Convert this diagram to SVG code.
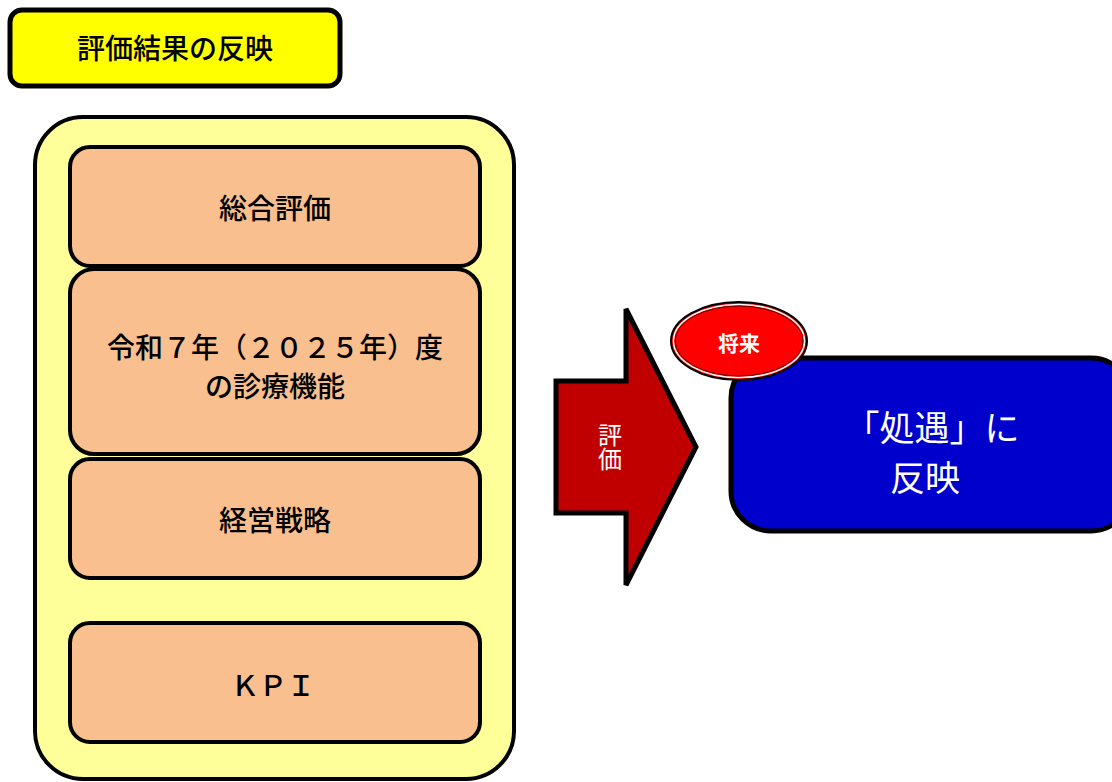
<svg xmlns="http://www.w3.org/2000/svg" width="1112" height="782" viewBox="0 0 1112 782">
<style>
text{font-family:"Noto Sans CJK JP","Noto Sans",sans-serif;text-anchor:middle;dominant-baseline:central}
.item{fill:#f9bf8f;stroke:#000;stroke-width:4}
.dark{fill:#000;font-size:28px;font-weight:500}
.white{fill:#fff}
</style>
<rect width="1112" height="782" fill="#fff"/>
<g id="title">
<rect x="10" y="10" width="330" height="76" rx="12" fill="#ffff00" stroke="#000" stroke-width="5"/>
<text class="dark" x="175" y="47">評価結果の反映</text>
</g>
<g id="container">
<rect x="35" y="117" width="479" height="662" rx="48" fill="#ffff99" stroke="#000" stroke-width="4"/>
</g>
<g id="item1">
<rect class="item" x="70" y="147" width="410" height="119" rx="20"/>
<text class="dark" x="275" y="207">総合評価</text>
</g>
<g id="item2">
<rect class="item" x="70" y="269" width="410" height="185" rx="24"/>
<text class="dark" x="275" y="346">令和７年（２０２５年）度</text>
<text class="dark" x="275" y="385">の診療機能</text>
</g>
<g id="item3">
<rect class="item" x="70" y="459" width="410" height="119" rx="20"/>
<text class="dark" x="275" y="519">経営戦略</text>
</g>
<g id="item4">
<rect class="item" x="70" y="623" width="410" height="119" rx="20"/>
<text class="dark" x="273" y="684">ＫＰＩ</text>
</g>
<g id="connectors">
<g id="arrow">
<polygon points="556,381 626,381 626,309 696,447 626,585 626,513 556,513" fill="#c00000" stroke="#000" stroke-width="5" stroke-linejoin="miter"/>
<text class="white" x="610" y="447" font-size="24" writing-mode="vertical-rl">評価</text>
</g>
</g>
<g id="result">
<rect x="731" y="358" width="400" height="173" rx="40" fill="#0000cc" stroke="#000" stroke-width="5"/>
<text class="white" x="932" y="425" font-size="35">「処遇」に</text>
<text class="white" x="925" y="475" font-size="35">反映</text>
</g>
<g id="future">
<ellipse cx="739" cy="341" rx="68" ry="39" fill="#ff0000" stroke="#000" stroke-width="2"/>
<ellipse cx="739" cy="341" rx="65.5" ry="36.5" fill="none" stroke="#fff" stroke-width="1.5"/>
<ellipse cx="739" cy="341" rx="64" ry="35" fill="none" stroke="#600" stroke-width="1"/>
<text class="white" x="739" y="342" font-size="21" font-weight="bold">将来</text>
</g>
</svg>
